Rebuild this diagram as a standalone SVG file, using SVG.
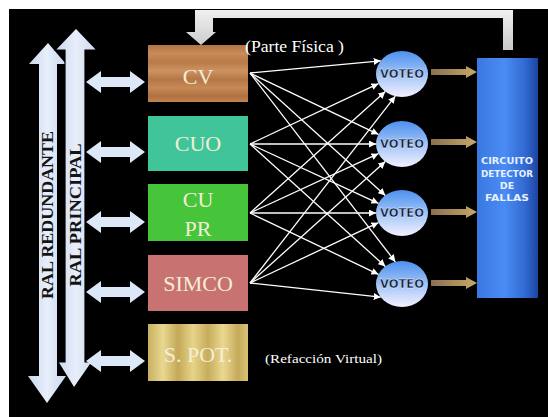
<svg xmlns="http://www.w3.org/2000/svg" width="548" height="417" viewBox="0 0 548 417">
<defs>
<linearGradient id="wood" x1="0" y1="0" x2="0" y2="1">
<stop offset="0" stop-color="#b47444"/><stop offset="0.15" stop-color="#c88c58"/><stop offset="0.3" stop-color="#b87a48"/><stop offset="0.45" stop-color="#cc9462"/><stop offset="0.6" stop-color="#b67646"/><stop offset="0.75" stop-color="#c68a56"/><stop offset="0.9" stop-color="#b07040"/><stop offset="1" stop-color="#c08450"/>
</linearGradient>
<linearGradient id="gold" x1="0" y1="0" x2="1" y2="0">
<stop offset="0" stop-color="#c8b060"/><stop offset="0.15" stop-color="#e8d890"/><stop offset="0.3" stop-color="#c4a858"/><stop offset="0.45" stop-color="#e6d48a"/><stop offset="0.6" stop-color="#c8ac5c"/><stop offset="0.75" stop-color="#ead890"/><stop offset="0.9" stop-color="#c6aa5a"/><stop offset="1" stop-color="#d8c278"/>
</linearGradient>
<linearGradient id="ball" x1="0" y1="0" x2="0" y2="1">
<stop offset="0" stop-color="#4c90ee"/><stop offset="0.55" stop-color="#a8c8f8"/><stop offset="1" stop-color="#f4f0ff"/>
</linearGradient>
<linearGradient id="blue" x1="0" y1="0" x2="1" y2="0">
<stop offset="0" stop-color="#3a78e0"/><stop offset="0.45" stop-color="#4a8cf4"/><stop offset="0.8" stop-color="#3068d0"/><stop offset="1" stop-color="#1c44a0"/>
</linearGradient>
<linearGradient id="tan" x1="0" y1="0" x2="1" y2="0">
<stop offset="0" stop-color="#8a7050"/><stop offset="1" stop-color="#c8a868"/>
</linearGradient>
<linearGradient id="bus" x1="0" y1="0" x2="1" y2="0">
<stop offset="0" stop-color="#c8d8f0"/><stop offset="0.5" stop-color="#e8eefa"/><stop offset="1" stop-color="#cad8ee"/>
</linearGradient>
<linearGradient id="fb" x1="0" y1="0" x2="0" y2="1">
<stop offset="0" stop-color="#f0f0f0"/><stop offset="1" stop-color="#c8c8c8"/>
</linearGradient>
<marker id="ah" markerUnits="userSpaceOnUse" markerWidth="8" markerHeight="7" refX="7" refY="3.5" orient="auto">
<path d="M0,0 L7,3.5 L0,7 z" fill="#ffffff"/>
</marker>
</defs>
<style>
.lbl{font-family:"Liberation Serif","Times New Roman",serif;font-size:22px;fill:#f4eed6;text-anchor:middle}
.bus{font-family:"Liberation Serif","Times New Roman",serif;font-weight:bold;font-size:16px;fill:#141414;text-anchor:middle}
.vt{font-family:"DejaVu Sans",sans-serif;font-weight:bold;font-size:11.5px;fill:#0c1a40;text-anchor:middle;stroke:#ffffff;stroke-width:0.3}
.cd{font-family:"DejaVu Sans",sans-serif;font-weight:bold;font-size:9.5px;fill:#e8f0ff;text-anchor:middle}
.note{font-family:"Liberation Serif","Times New Roman",serif;fill:#ffffff}
.dbl{fill:#dce8f8}
.conn line{stroke:#ffffff;stroke-width:1.3;marker-end:url(#ah)}
</style>
<rect x="0" y="0" width="548" height="417" fill="#ffffff"/>
<rect x="9" y="9" width="539" height="408" fill="#000000"/>

<g id="feedback">
<path d="M195,10 L513,10 L513,50 L503,50 L503,18 L213,18 L213,32 L216,32 L201,45 L186,32 L195,32 z" fill="url(#fb)"/>
</g>

<g id="ral-redundante">
<path d="M48,43 L66,64 L57,64 L57,376 L66,376 L47,403 L28,376 L39,376 L39,64 L29,64 z" fill="url(#bus)"/>
<text class="bus" transform="translate(53,215) rotate(-90)" textLength="168" lengthAdjust="spacingAndGlyphs">RAL REDUNDANTE</text>
</g>
<g id="ral-principal">
<path d="M76,28 L97,50 L85,50 L85,362 L92,362 L74,388 L58,362 L65,362 L65,50 L55,50 z" fill="url(#bus)" stroke="#000" stroke-width="1.2"/>
<text class="bus" transform="translate(81,215) rotate(-90)" textLength="143" lengthAdjust="spacingAndGlyphs">RAL PRINCIPAL</text>
</g>

<g id="bus-links">
<path class="dbl" d="M86,82 L101,71 L101,77 L130,77 L130,71 L145,82 L130,93 L130,87 L101,87 L101,93 z"/>
<path class="dbl" d="M86,152 L101,141 L101,147 L130,147 L130,141 L145,152 L130,163 L130,157 L101,157 L101,163 z"/>
<path class="dbl" d="M86,222 L101,211 L101,217 L130,217 L130,211 L145,222 L130,233 L130,227 L101,227 L101,233 z"/>
<path class="dbl" d="M86,292 L101,281 L101,287 L130,287 L130,281 L145,292 L130,303 L130,297 L101,297 L101,303 z"/>
<path class="dbl" d="M86,361 L101,350 L101,356 L130,356 L130,350 L145,361 L130,372 L130,366 L101,366 L101,372 z"/>
</g>

<g id="cv">
<rect x="148" y="45" width="100" height="57" fill="url(#wood)"/>
<text class="lbl" x="198" y="84">CV</text>
</g>
<g id="cuo">
<rect x="148" y="116" width="100" height="55" fill="#40c49a"/>
<text class="lbl" x="198" y="151">CUO</text>
</g>
<g id="cupr">
<rect x="148" y="184" width="100" height="57" fill="#46c43a"/>
<text class="lbl" x="198" y="207">CU</text>
<text class="lbl" x="198" y="236">PR</text>
</g>
<g id="simco">
<rect x="148" y="255" width="100" height="56" fill="#c87272"/>
<text class="lbl" x="198" y="291">SIMCO</text>
</g>
<g id="spot">
<rect x="148" y="324" width="100" height="57" fill="url(#gold)"/>
<text class="lbl" x="198" y="362">S. POT.</text>
</g>

<text class="note" x="245" y="52" font-size="16" textLength="99" lengthAdjust="spacingAndGlyphs">(Parte Física )</text>
<text class="note" x="265" y="363" font-size="13" textLength="117" lengthAdjust="spacingAndGlyphs">(Refacción Virtual)</text>

<g id="voteo1"><ellipse cx="402" cy="74" rx="26" ry="23" fill="url(#ball)"/><text class="vt" x="402" y="78" textLength="44" lengthAdjust="spacingAndGlyphs">VOTEO</text></g>
<g id="voteo2"><ellipse cx="402" cy="144" rx="26" ry="23" fill="url(#ball)"/><text class="vt" x="402" y="148" textLength="44" lengthAdjust="spacingAndGlyphs">VOTEO</text></g>
<g id="voteo3"><ellipse cx="402" cy="213" rx="26" ry="23" fill="url(#ball)"/><text class="vt" x="402" y="217" textLength="44" lengthAdjust="spacingAndGlyphs">VOTEO</text></g>
<g id="voteo4"><ellipse cx="402" cy="284" rx="26" ry="23" fill="url(#ball)"/><text class="vt" x="402" y="288" textLength="44" lengthAdjust="spacingAndGlyphs">VOTEO</text></g>

<g id="detector">
<rect x="477" y="58" width="61" height="240" fill="url(#blue)"/>
<text class="cd" x="507" y="164" textLength="52" lengthAdjust="spacingAndGlyphs">CIRCUITO</text>
<text class="cd" x="507" y="177" textLength="52" lengthAdjust="spacingAndGlyphs">DETECTOR</text>
<text class="cd" x="507" y="189">DE</text>
<text class="cd" x="507" y="201" textLength="44" lengthAdjust="spacingAndGlyphs">FALLAS</text>
</g>

<g id="outputs">
<path d="M431,69 L466,69 L466,66 L477,72 L466,78 L466,75 L431,75 z" fill="url(#tan)"/>
<path d="M431,139 L466,139 L466,136 L477,142 L466,148 L466,145 L431,145 z" fill="url(#tan)"/>
<path d="M431,209 L466,209 L466,206 L477,212 L466,218 L466,215 L431,215 z" fill="url(#tan)"/>
<path d="M431,280 L466,280 L466,277 L477,283 L466,289 L466,286 L431,286 z" fill="url(#tan)"/>
</g>

<g class="conn" id="connectors">
<line x1="250" y1="73" x2="380.7" y2="60.8"/>
<line x1="250" y1="73" x2="378.4" y2="134.3"/>
<line x1="250" y1="73" x2="385.3" y2="195.4"/>
<line x1="250" y1="73" x2="395.3" y2="261.8"/>
<line x1="250" y1="144" x2="378.4" y2="83.7"/>
<line x1="250" y1="144" x2="376" y2="144"/>
<line x1="250" y1="144" x2="378.4" y2="203.3"/>
<line x1="250" y1="144" x2="385.3" y2="266.4"/>
<line x1="250" y1="213" x2="385.3" y2="91.6"/>
<line x1="250" y1="213" x2="378.4" y2="153.7"/>
<line x1="250" y1="213" x2="376" y2="213"/>
<line x1="250" y1="213" x2="378.4" y2="274.3"/>
<line x1="250" y1="283" x2="395.3" y2="96.2"/>
<line x1="250" y1="283" x2="385.3" y2="161.6"/>
<line x1="250" y1="283" x2="378.4" y2="222.7"/>
<line x1="250" y1="283" x2="380.7" y2="297.2"/>
</g>
</svg>
